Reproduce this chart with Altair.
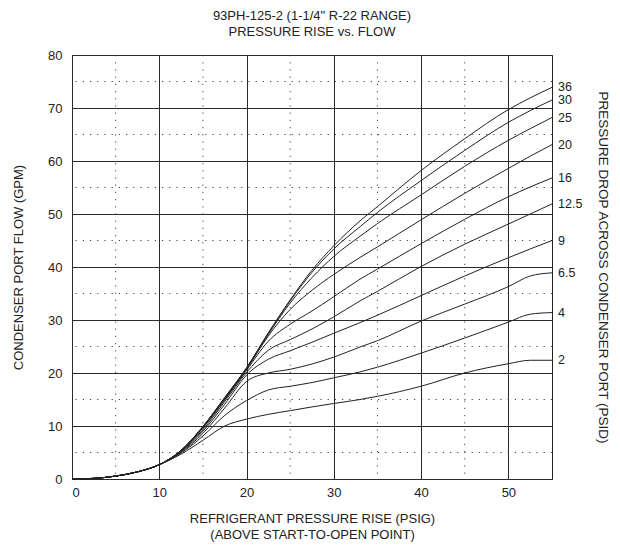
import altair as alt
import pandas as pd

# x positions (refrigerant pressure rise, psig) shared by every curve
X = [0, 2.5, 5, 7.5, 10, 12.5, 15, 17.5, 20, 22.5, 25, 27.5, 30, 33, 35, 40, 45, 50, 52.5, 55]

START = [0, 0.12, 0.55, 1.35, 2.7]

SERIES = ["36", "30", "25", "20", "16", "12.5", "9", "6.5", "4", "2"]

Y36 = START + [5.4, 9.9, 15.4, 21.0, 27.6, 33.8, 39.4, 44.0, 48.7, 51.4, 58.2, 64.2, 69.7, 71.9, 73.9]
Y30 = START + [5.4, 9.9, 15.3, 20.9, 27.5, 33.6, 39.0, 43.4, 47.6, 50.3, 56.3, 62.0, 67.3, 69.5, 71.5]
Y25 = START + [5.4, 9.85, 15.2, 20.8, 27.3, 33.2, 38.0, 42.0, 45.8, 48.2, 53.6, 59.0, 63.9, 66.1, 68.2]
Y20 = START + [5.35, 9.75, 15.1, 20.7, 27.0, 32.0, 35.6, 38.6, 41.8, 43.8, 48.9, 53.9, 58.6, 60.9, 63.1]
Y16 = START + [5.3, 9.6, 14.9, 20.5, 26.0, 29.2, 31.7, 34.4, 37.7, 39.6, 44.4, 49.0, 53.25, 55.1, 56.8]
Y12_5 = START + [5.25, 9.3, 14.6, 20.1, 24.3, 26.3, 28.3, 30.6, 33.6, 35.4, 40.1, 44.3, 48.1, 50.0, 51.9]
Y9 = START + [5.15, 9.0, 14.1, 19.6, 22.6, 24.2, 25.8, 27.5, 29.5, 30.9, 34.6, 38.3, 41.75, 43.4, 45.0]
Y6_5 = START + [5.05, 8.6, 13.4, 18.4, 20.0, 20.7, 21.7, 23.0, 24.9, 26.1, 29.8, 33.0, 36.3, 38.3, 38.9]
Y4 = START + [4.9, 8.1, 12.0, 14.8, 16.8, 17.5, 18.2, 19.1, 20.2, 21.1, 23.75, 26.6, 29.6, 31.1, 31.4]
Y2 = START + [4.7, 7.3, 10.0, 11.3, 12.2, 12.9, 13.6, 14.25, 15.0, 15.6, 17.5, 20.0, 21.75, 22.4, 22.4]

ALL_Y = [Y36, Y30, Y25, Y20, Y16, Y12_5, Y9, Y6_5, Y4, Y2]

MAJOR_X = [0, 10, 20, 30, 40, 50]
MAJOR_Y = [0, 10, 20, 30, 40, 50, 60, 70, 80]
MINOR_X = [5, 15, 25, 35, 45]
MINOR_Y = [5, 15, 25, 35, 45, 55, 65, 75]

FONT = "Liberation Sans"
INK = "#222222"

rows = []
for name, ys in zip(SERIES, ALL_Y):
    for x, y in zip(X, ys):
        rows.append({"rise": x, "flow": y, "drop": name})
df = pd.DataFrame(rows)

lab = pd.DataFrame({"drop": SERIES, "rise": [X[-1]] * len(SERIES), "flow": [ys[-1] for ys in ALL_Y]})

xscale = alt.Scale(domain=[0, 55], nice=False, zero=False)
yscale = alt.Scale(domain=[0, 80], nice=False)

dot = [1.2, 6]

minor_x = alt.Chart(pd.DataFrame({"v": MINOR_X})).mark_rule(
    color="#444", strokeDash=dot, strokeWidth=1
).encode(x=alt.X("v:Q", scale=xscale, axis=None))

minor_y = alt.Chart(pd.DataFrame({"v": MINOR_Y})).mark_rule(
    color="#444", strokeDash=dot, strokeWidth=1
).encode(y=alt.Y("v:Q", scale=yscale, axis=None))

lines = alt.Chart(df).mark_line(color=INK, strokeWidth=1, interpolate="monotone").encode(
    x=alt.X("rise:Q", scale=xscale,
            axis=alt.Axis(values=MAJOR_X, grid=True, gridColor="#2a2a2a", gridWidth=1,
                          domain=False, ticks=False, labelPadding=7, labelFontSize=13,
                          labelFont=FONT, labelColor=INK,
                          title=["REFRIGERANT PRESSURE RISE (PSIG)", "(ABOVE START-TO-OPEN POINT)"],
                          titleFont=FONT, titleFontSize=13, titleFontWeight="normal",
                          titleColor=INK, titlePadding=13, titleLineHeight=16)),
    y=alt.Y("flow:Q", scale=yscale,
            axis=alt.Axis(values=MAJOR_Y, grid=True, gridColor="#2a2a2a", gridWidth=1,
                          domain=False, ticks=False, labelPadding=10, labelFontSize=13,
                          labelFont=FONT, labelColor=INK,
                          title="CONDENSER PORT FLOW (GPM)", titleFont=FONT, titleFontSize=13,
                          titleFontWeight="normal", titleColor=INK, titlePadding=22)),
    detail="drop:N",
)

labels = alt.Chart(lab).mark_text(align="left", baseline="middle", dx=6, fontSize=12.5,
                                  font=FONT, color=INK).encode(
    x=alt.X("rise:Q", scale=xscale, axis=None),
    y=alt.Y("flow:Q", scale=yscale,
            axis=alt.Axis(orient="right", labels=False, ticks=False, domain=False, grid=False,
                          title="PRESSURE DROP ACROSS CONDENSER PORT (PSID)", titleFont=FONT,
                          titleFontSize=13.5, titleFontWeight="normal", titleColor=INK,
                          titlePadding=43)),
    text="drop:N",
)

chart = alt.layer(minor_x, minor_y, lines, labels).resolve_axis(
    x="independent", y="independent"
).properties(
    width=480, height=424,
    padding={"left": 64, "top": 47, "right": 60, "bottom": 66},
    autosize=alt.AutoSizeParams(type="none"),
    title=alt.TitleParams(text=['93PH-125-2 (1-1/4" R-22 RANGE)', "PRESSURE RISE vs. FLOW"],
                          font=FONT, fontSize=13, fontWeight="normal", color=INK,
                          anchor="middle", lineHeight=16, offset=10),
).configure_view(stroke="#222", strokeWidth=1)

chart.save("out.html", embed_options={"renderer": "svg", "actions": False})
